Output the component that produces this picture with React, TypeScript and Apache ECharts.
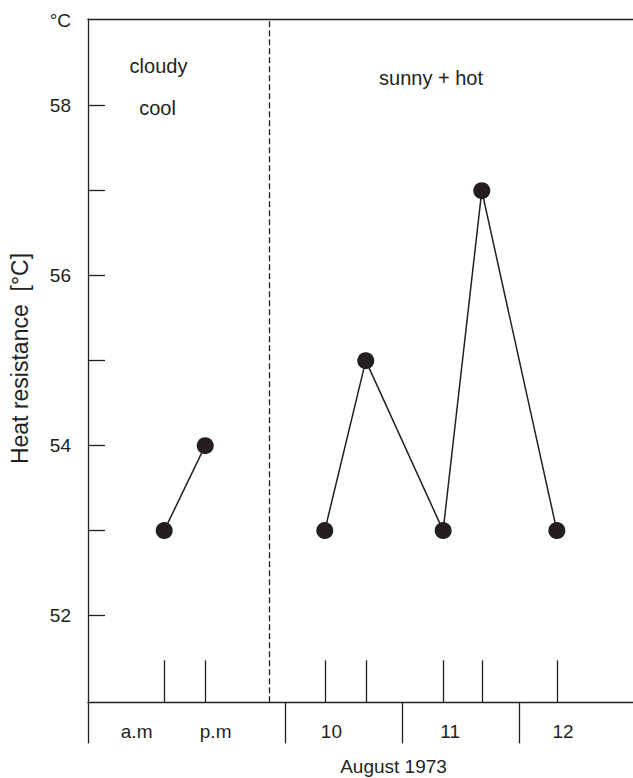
import React, { useEffect, useRef } from "react";
import * as echarts from "echarts";

// Time axis in fractional days (day 10 begins at 10.0)
const X_MIN = 8.32;
const X_MAX = 12.97;
const Y_MIN = 50.98;
const Y_MAX = 59.02;

// Measurements: cloudy/cool period (a.m / p.m) and the sunny + hot days
const cloudyX = [8.97, 9.32];
const cloudyY = [53, 54];
const sunnyX = [10.34, 10.69, 11.35, 11.68, 12.32];
const sunnyY = [53, 55, 53, 57, 53];

// Day boundaries in the label strip below the axis
const dayBounds = [10, 11, 12];
const periodLabels = ["a.m", "p.m", "10", "11", "12"];
const periodLabelX = [8.735, 9.409, 10.397, 11.41, 12.373];

// Weather change marker
const weatherChangeX = 9.867;

// Y axis ticks and labels
const yTickValues = [52, 53, 54, 55, 56, 57, 58];
const yLabelValues = [52, 54, 56, 58, 59];
const yUnitValue = 59;

const INK = "#231f20";
const FONT = '"Liberation Sans", Arial, Helvetica, sans-serif';

export default function App() {
  const ref = useRef<HTMLDivElement>(null);

  useEffect(() => {
    if (!ref.current) return;
    const chart = echarts.init(ref.current, null, { renderer: "svg" });

    const toPairs = (xs: number[], ys: number[]) => xs.map((x, i) => [x, ys[i]]);

    const lineSeries = (data: number[][]) => ({
      type: "line",
      data,
      xAxisIndex: 0,
      yAxisIndex: 0,
      symbol: "circle",
      symbolSize: 17,
      itemStyle: { color: INK },
      lineStyle: { color: INK, width: 1.5 },
      silent: true,
    });

    chart.setOption({
      animation: false,
      backgroundColor: "#ffffff",
      grid: { left: 88, right: 0, top: 19, bottom: 75.7, containLabel: false },
      xAxis: [
        {
          type: "value",
          position: "bottom",
          min: X_MIN,
          max: X_MAX,
          axisLine: { show: true, lineStyle: { color: INK, width: 1.3 } },
          axisTick: {
            show: true,
            inside: true,
            length: 42,
            customValues: [...cloudyX, ...sunnyX],
            lineStyle: { color: INK, width: 1.3 },
          },
          axisLabel: {
            show: true,
            customValues: periodLabelX,
            margin: 20,
            color: INK,
            fontSize: 19,
            fontFamily: FONT,
            formatter: (v: number) => {
              const i = periodLabelX.findIndex((p) => Math.abs(p - v) < 1e-6);
              return i >= 0 ? periodLabels[i] : "";
            },
          },
          splitLine: { show: false },
        },
        {
          type: "value",
          position: "bottom",
          min: X_MIN,
          max: X_MAX,
          axisLine: { show: false },
          axisTick: {
            show: true,
            inside: false,
            length: 41,
            customValues: [X_MIN, ...dayBounds],
            lineStyle: { color: INK, width: 1.3 },
          },
          axisLabel: { show: false },
          splitLine: { show: false },
        },
        {
          type: "value",
          position: "top",
          min: X_MIN,
          max: X_MAX,
          axisLine: { show: true, lineStyle: { color: INK, width: 1.3 } },
          axisTick: { show: false },
          axisLabel: { show: false },
          splitLine: { show: false },
        },
      ],
      yAxis: {
        type: "value",
        min: Y_MIN,
        max: Y_MAX,
        axisLine: { show: true, lineStyle: { color: INK, width: 1.3 } },
        axisTick: {
          show: true,
          inside: true,
          length: 17,
          customValues: yTickValues,
          lineStyle: { color: INK, width: 1.3 },
        },
        axisLabel: {
          show: true,
          customValues: yLabelValues,
          margin: 17,
          color: INK,
          fontSize: 19,
          fontFamily: FONT,
          formatter: (v: number) => (Math.abs(v - yUnitValue) < 1e-6 ? "°C" : String(v)),
        },
        splitLine: { show: false },
      },
      series: [
        {
          ...lineSeries(toPairs(cloudyX, cloudyY)),
          markLine: {
            silent: true,
            symbol: ["none", "none"],
            label: { show: false },
            lineStyle: { color: INK, width: 1.3, type: [6, 3] },
            data: [{ xAxis: weatherChangeX }],
          },
        },
        lineSeries(toPairs(sunnyX, sunnyY)),
      ],
      graphic: [
        {
          type: "text",
          x: 158.5,
          y: 65.5,
          style: { text: "cloudy", fill: INK, font: `20px ${FONT}`, textAlign: "center", textVerticalAlign: "middle" },
        },
        {
          type: "text",
          x: 157.5,
          y: 108,
          style: { text: "cool", fill: INK, font: `20px ${FONT}`, textAlign: "center", textVerticalAlign: "middle" },
        },
        {
          type: "text",
          x: 431,
          y: 78,
          style: { text: "sunny + hot", fill: INK, font: `20px ${FONT}`, textAlign: "center", textVerticalAlign: "middle" },
        },
        {
          type: "text",
          x: 393.5,
          y: 766,
          style: { text: "August 1973", fill: INK, font: `19px ${FONT}`, textAlign: "center", textVerticalAlign: "middle" },
        },
        {
          type: "text",
          x: 20.3,
          y: 358.5,
          rotation: Math.PI / 2,
          style: {
            text: "Heat resistance \u00a0[°C]",
            fill: INK,
            font: `23px ${FONT}`,
            textAlign: "center",
            textVerticalAlign: "middle",
          },
        },
      ],
    });

    return () => chart.dispose();
  }, []);

  return (
    <div
      ref={ref}
      style={{ position: "fixed", left: 0, top: 0, width: 633, height: 778, background: "#fff" }}
    />
  );
}
